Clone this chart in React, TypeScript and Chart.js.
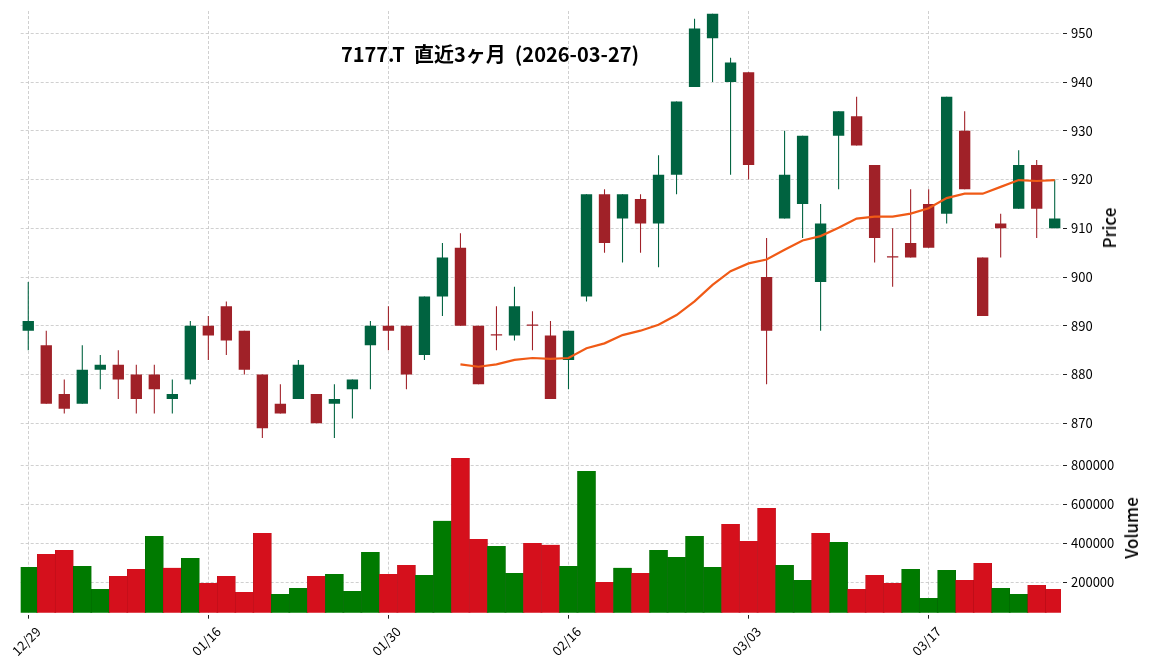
import React, { useEffect, useRef } from "react";
import { Chart, registerables } from "chart.js";

Chart.register(...registerables);

// ---------- data ----------
const dates = [
  "12/29", "12/30", "01/05", "01/06", "01/07", "01/08", "01/09", "01/13", "01/14", "01/15",
  "01/16", "01/19", "01/20", "01/21", "01/22", "01/23", "01/26", "01/27", "01/28", "01/29",
  "01/30", "02/02", "02/03", "02/04", "02/05", "02/06", "02/09", "02/10", "02/12", "02/13",
  "02/16", "02/17", "02/18", "02/19", "02/20", "02/24", "02/25", "02/26", "02/27", "03/02",
  "03/03", "03/04", "03/05", "03/06", "03/09", "03/10", "03/11", "03/12", "03/13", "03/16",
  "03/17", "03/18", "03/19", "03/23", "03/24", "03/25", "03/26", "03/27",
];

const opens = [
  889, 886, 876, 874, 881, 882, 880, 880, 875, 879,
  890, 894, 889, 880, 874, 875, 876, 874, 877, 886,
  890, 890, 884, 896, 906, 890, 888, 888, 890, 888,
  883, 896, 917, 912, 916, 911, 921, 939, 949, 940,
  942, 900, 912, 915, 899, 929, 933, 923, 904, 907,
  915, 913, 930, 904, 911, 914, 923, 910,
];
const highs = [
  899, 889, 879, 886, 884, 885, 882, 882, 879, 891,
  892, 895, 889, 880, 878, 883, 876, 878, 879, 891,
  894, 890, 896, 907, 909, 890, 894, 898, 893, 891,
  889, 917, 918, 917, 917, 925, 936, 953, 954, 945,
  942, 908, 930, 929, 915, 934, 937, 923, 910, 918,
  918, 937, 934, 904, 913, 926, 924, 920,
];
const lows = [
  885, 874, 872, 874, 877, 875, 872, 872, 872, 878,
  883, 884, 880, 867, 872, 875, 870, 867, 871, 877,
  885, 877, 883, 892, 890, 878, 885, 887, 885, 875,
  877, 895, 905, 903, 905, 902, 917, 939, 940, 921,
  920, 878, 912, 908, 889, 918, 927, 903, 898, 904,
  906, 911, 918, 892, 904, 914, 908, 910,
];
const closes = [
  891, 874, 873, 881, 882, 879, 875, 877, 876, 890,
  888, 887, 881, 869, 872, 882, 870, 875, 879, 890,
  889, 880, 896, 904, 890, 878, 888, 894, 890, 875,
  889, 917, 907, 917, 911, 921, 936, 951, 954, 944,
  923, 889, 921, 929, 911, 934, 927, 908, 904, 904,
  906, 937, 918, 892, 910, 923, 914, 912,
];
const volumes = [
  279000, 345000, 366000, 284000, 166000, 232000, 268000, 438000, 274000, 325000,
  197000, 232000, 150000, 453000, 140000, 171000, 232000, 243000, 156000, 356000,
  243000, 289000, 238000, 515000, 838000, 422000, 386000, 248000, 402000, 392000,
  284000, 771000, 202000, 274000, 248000, 366000, 330000, 438000, 279000, 499000,
  412000, 581000, 289000, 212000, 453000, 407000, 166000, 238000, 197000, 268000,
  120000, 263000, 212000, 299000, 171000, 140000, 186000, 166000,
];
// 25-day moving average (starts at candle index 24)
const maStartIndex = 24;
const ma25 = [
  882.1, 881.6, 882.1, 883.0, 883.4, 883.2, 883.4, 885.4, 886.4, 888.1,
  889.0, 890.2, 892.2, 895.0, 898.4, 901.2, 902.8, 903.6, 905.6, 907.5,
  908.4, 910.1, 912.0, 912.4, 912.4, 913.0, 914.1, 916.2, 917.1, 917.1,
  918.5, 919.9, 919.7, 919.9,
];
const xTickIndices = [0, 10, 20, 30, 40, 50];
const priceTicks = [870, 880, 890, 900, 910, 920, 930, 940, 950];
const volumeTicks = [200000, 400000, 600000, 800000];
const titleText = "7177.T  直近3ヶ月  (2026-03-27)";

// ---------- style ----------
const UP = "#006340";
const DOWN = "#A02128";
const VUP = "#007A00";
const VDOWN = "#D5101C";
const MA_COLOR = "#F05A16";
const GRID = "#c4c4c4";
const GRID_W = 0.8;
const GRID_DASH = [3, 2];
const FONT = "'Noto Sans CJK JP', 'Noto Sans', sans-serif";
const W = 1152;
const AXIS_W = 91;
const X_MIN = -0.42;
const X_MAX = 57.35;

const tickIdx = (s: any, list: number[]) => {
  s.ticks = list.map((v) => ({ value: v }));
};

function xScale(showLabels: boolean) {
  return {
    type: "linear",
    min: X_MIN,
    max: X_MAX,
    offset: false,
    bounds: "data",
    grid: {
      offset: false,
      color: GRID,
      lineWidth: GRID_W,
      drawTicks: showLabels,
      tickLength: 6,
      tickColor: "#222",
      tickWidth: 1,
      tickBorderDash: [0, 2, 4, 10],
    },
    border: { display: false, dash: GRID_DASH },
    afterBuildTicks: (s: any) => tickIdx(s, xTickIndices),
    ticks: {
      display: showLabels,
      autoSkip: false,
      maxRotation: 45,
      minRotation: 45,
      labelOffset: 10,
      padding: 5,
      color: "#000",
      font: { family: FONT, size: 13 },
      callback: (v: any) => dates[v] ?? "",
    },
    afterFit: (s: any) => {
      s.height = showLabels ? 57.3 : 0;
      s.paddingLeft = 0;
      s.paddingRight = 0;
    },
  };
}

function yScale(min: number, max: number, list: number[]) {
  return {
    type: "linear",
    position: "right",
    min,
    max,
    beginAtZero: false,
    bounds: "data",
    grid: {
      color: GRID,
      lineWidth: GRID_W,
      drawTicks: true,
      tickLength: 6,
      tickColor: "#222",
      tickWidth: 1,
      tickBorderDash: [0, 2, 4, 10],
    },
    border: { display: false, dash: GRID_DASH },
    afterBuildTicks: (s: any) => tickIdx(s, list),
    ticks: {
      padding: 4,
      color: "#000",
      font: { family: FONT, size: 13 },
      callback: (v: any) => String(v),
    },
    afterFit: (s: any) => {
      s.width = AXIS_W;
      s.paddingTop = 0;
      s.paddingBottom = 0;
    },
  };
}

export default function App() {
  const priceRef = useRef<HTMLCanvasElement>(null);
  const volRef = useRef<HTMLCanvasElement>(null);

  useEffect(() => {
    const idx = closes.map((_, i) => i);
    const candleColors = idx.map((i) => (closes[i] > opens[i] ? UP : DOWN));
    const volColors = idx.map((i) => {
      const up = i === 0 ? closes[0] > opens[0] : closes[i] >= closes[i - 1];
      return up ? VUP : VDOWN;
    });

    const price = new Chart(priceRef.current!, {
      type: "bar",
      data: {
        datasets: [
          {
            type: "line",
            label: "MA25",
            data: ma25.map((v, k) => ({ x: maStartIndex + k, y: v })),
            borderColor: MA_COLOR,
            borderWidth: 2.2,
            pointRadius: 0,
            tension: 0,
            order: 0,
          } as any,
          {
            type: "bar",
            label: "body",
            data: idx.map((i) => ({ x: i, y: [opens[i], closes[i]] })),
            backgroundColor: candleColors,
            borderWidth: 0,
            grouped: false,
            barPercentage: 0.63,
            categoryPercentage: 1,
            minBarLength: 1.2,
            order: 1,
          } as any,
          {
            type: "bar",
            label: "wick",
            data: idx.map((i) => ({ x: i, y: [lows[i], highs[i]] })),
            backgroundColor: candleColors,
            borderWidth: 0,
            grouped: false,
            barPercentage: 0.06,
            categoryPercentage: 1,
            order: 2,
          } as any,
        ],
      },
      options: {
        animation: false,
        responsive: false,
        devicePixelRatio: 1,
        layout: { padding: { top: 11, left: 20.7, right: 0, bottom: 0.5 } },
        plugins: { legend: { display: false }, tooltip: { enabled: false }, title: { display: false } },
        scales: {
          x: xScale(false) as any,
          y: yScale(866.68, 954.57, priceTicks) as any,
        },
      },
    });

    const vol = new Chart(volRef.current!, {
      type: "bar",
      data: {
        datasets: [
          {
            label: "Volume",
            data: idx.map((i) => ({ x: i, y: volumes[i] })),
            backgroundColor: volColors,
            borderColor: volColors.map((c) => (c === VUP ? "#006600" : "#B50E18")),
            borderWidth: { left: 0.5, right: 0.5, top: 0, bottom: 0 },
            borderSkipped: false,
            grouped: false,
            barPercentage: 1,
            categoryPercentage: 1,
          } as any,
        ],
      },
      options: {
        animation: false,
        responsive: false,
        devicePixelRatio: 1,
        layout: { padding: { top: 1.7, left: 20.7, right: 0, bottom: 0 } },
        plugins: { legend: { display: false }, tooltip: { enabled: false }, title: { display: false } },
        scales: {
          x: xScale(true) as any,
          y: yScale(44100, 921000, volumeTicks) as any,
        },
      },
    });

    return () => {
      price.destroy();
      vol.destroy();
    };
  }, []);

  const axisTitle: React.CSSProperties = {
    position: "absolute",
    transform: "translate(-50%, -50%) rotate(-90deg)",
    fontFamily: FONT,
    fontSize: 17,
    fontWeight: 500,
    color: "#000",
    whiteSpace: "nowrap",
    lineHeight: "20px",
  };

  return (
    <div style={{ position: "absolute", left: 0, top: 0, width: W, height: 670, background: "#fff", overflow: "hidden" }}>
      <canvas ref={priceRef} width={W} height={440} style={{ position: "absolute", left: 0, top: 0, width: W, height: 440 }} />
      <canvas ref={volRef} width={W} height={230} style={{ position: "absolute", left: 0, top: 440, width: W, height: 230 }} />
      <div
        style={{
          position: "absolute",
          left: 490,
          top: 54,
          transform: "translate(-50%, -50%)",
          fontFamily: FONT,
          fontWeight: 700,
          fontSize: 20,
          lineHeight: "24px",
          whiteSpace: "pre",
          color: "#000",
        }}
      >
        {titleText}
      </div>
      <div style={{ ...axisTitle, left: 1109, top: 228 }}>Price</div>
      <div style={{ ...axisTitle, left: 1131, top: 528 }}>Volume</div>
    </div>
  );
}
